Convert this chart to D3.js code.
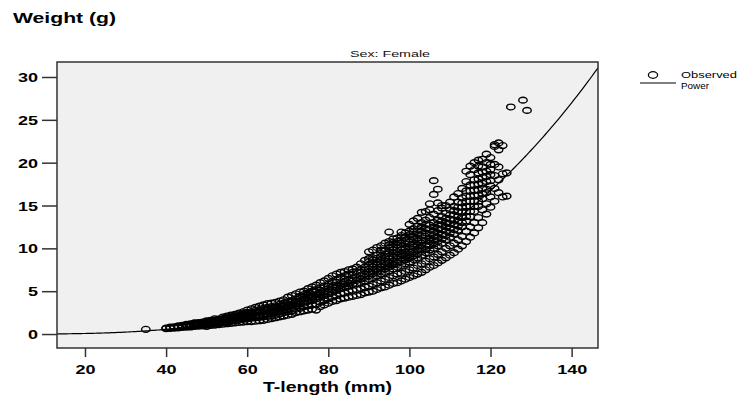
<!DOCTYPE html>
<html>
<head>
<meta charset="utf-8">
<script src="https://cdn.jsdelivr.net/npm/d3@7"></script>
<style>
  body { margin: 0; background: #fff; }
  svg { display: block; font-family: 'Liberation Sans', Arial, sans-serif; }
  .axis text { font-size: 12px; font-weight: bold; fill: #000; }
  .axis line { stroke: #333; stroke-width: 1.5; }
  .axis path { display: none; }
</style>
</head>
<body>
<div id="app"></div>
<script>
// T-length (mm) vs weight (g)
const observed = [
  [35, 0.55],
  [40, 0.62], [40, 0.70],
  [41, 0.66], [41, 0.74], [41, 0.80],
  [42, 0.70], [42, 0.78], [42, 0.85],
  [43, 0.72], [43, 0.80], [43, 0.88], [43, 0.95],
  [44, 0.78], [44, 0.86], [44, 0.95], [44, 1.02],
  [45, 0.80], [45, 0.88], [45, 0.96], [45, 1.05],
  [46, 0.82], [46, 0.92], [46, 1.00], [46, 1.10], [46, 1.18],
  [47, 0.88], [47, 0.98], [47, 1.06], [47, 1.15], [47, 1.25],
  [48, 0.92], [48, 1.02], [48, 1.12], [48, 1.22], [48, 1.32],
  [49, 0.96], [49, 1.06], [49, 1.16], [49, 1.28], [49, 1.40],
  [50, 0.90], [50, 1.10], [50, 1.22], [50, 1.35], [50, 1.55],
  [51, 1.00], [51, 1.18], [51, 1.30], [51, 1.42], [51, 1.60],
  [52, 1.05], [52, 1.22], [52, 1.36], [52, 1.50], [52, 1.62], [52, 1.78],
  [53, 1.10], [53, 1.28], [53, 1.42], [53, 1.58], [53, 1.75],
  [54, 1.15], [54, 1.35], [54, 1.50], [54, 1.65], [54, 1.80], [54, 1.98],
  [55, 1.20], [55, 1.40], [55, 1.56], [55, 1.72], [55, 1.90], [55, 2.10],
  [56, 1.25], [56, 1.48], [56, 1.65], [56, 1.82], [56, 2.00], [56, 2.20],
  [57, 1.30], [57, 1.55], [57, 1.72], [57, 1.90], [57, 2.10], [57, 2.30],
  [58, 1.35], [58, 1.62], [58, 1.82], [58, 2.00], [58, 2.25], [58, 2.45],
  [59, 1.40], [59, 1.70], [59, 1.90], [59, 2.10], [59, 2.35], [59, 2.60],
  [60, 1.45], [60, 1.78], [60, 2.00], [60, 2.22], [60, 2.50], [60, 2.80],
  [61, 1.45], [61, 1.85], [61, 2.08], [61, 2.30], [61, 2.60], [61, 2.95],
  [62, 1.50], [62, 1.90], [62, 2.18], [62, 2.42], [62, 2.75], [62, 3.10],
  [63, 1.55], [63, 1.95], [63, 2.25], [63, 2.55], [63, 2.85], [63, 3.25],
  [64, 1.60], [64, 2.00], [64, 2.35], [64, 2.65], [64, 3.00], [64, 3.40],
  [65, 1.70], [65, 2.05], [65, 2.40], [65, 2.75], [65, 3.10], [65, 3.55],
  [66, 1.80], [66, 2.10], [66, 2.45], [66, 2.80], [66, 3.20], [66, 3.60],
  [67, 1.90], [67, 2.20], [67, 2.55], [67, 2.90], [67, 3.30], [67, 3.70],
  [68, 2.00], [68, 2.35], [68, 2.70], [68, 3.05], [68, 3.45], [68, 3.85],
  [69, 2.10], [69, 2.50], [69, 2.85], [69, 3.20], [69, 3.60], [69, 4.00],
  [70, 2.20], [70, 2.60], [70, 3.00], [70, 3.40], [70, 3.80], [70, 4.30],
  [71, 2.30], [71, 2.70], [71, 3.10], [71, 3.50], [71, 3.90], [71, 4.50],
  [72, 2.50], [72, 2.90], [72, 3.30], [72, 3.70], [72, 4.10], [72, 4.70],
  [73, 2.60], [73, 3.00], [73, 3.50], [73, 3.90], [73, 4.40], [73, 4.90],
  [74, 2.70], [74, 3.20], [74, 3.60], [74, 4.10], [74, 4.60], [74, 5.00],
  [75, 2.80], [75, 3.30], [75, 3.80], [75, 4.30], [75, 4.80], [75, 5.30],
  [76, 2.90], [76, 3.40], [76, 3.90], [76, 4.40], [76, 5.00], [76, 5.50],
  [77, 2.80], [77, 3.50], [77, 4.10], [77, 4.60], [77, 5.20], [77, 5.70],
  [78, 3.20], [78, 3.70], [78, 4.30], [78, 4.80], [78, 5.40], [78, 6.00],
  [79, 3.40], [79, 3.90], [79, 4.50], [79, 5.00], [79, 5.60], [79, 6.20],
  [80, 3.60], [80, 4.10], [80, 4.70], [80, 5.30], [80, 5.80], [80, 6.50],
  [81, 3.80], [81, 4.30], [81, 4.90], [81, 5.50], [81, 6.10], [81, 6.80],
  [82, 3.90], [82, 4.50], [82, 5.10], [82, 5.70], [82, 6.30], [82, 7.00],
  [83, 4.10], [83, 4.70], [83, 5.30], [83, 5.90], [83, 6.60], [83, 7.20],
  [84, 4.20], [84, 4.80], [84, 5.50], [84, 6.10], [84, 6.80], [84, 7.30],
  [85, 4.30], [85, 5.00], [85, 5.60], [85, 6.30], [85, 7.00], [85, 7.50],
  [86, 4.40], [86, 5.10], [86, 5.80], [86, 6.50], [86, 7.20], [86, 7.60],
  [87, 4.50], [87, 5.20], [87, 5.90], [87, 6.60], [87, 7.30], [87, 7.80],
  [88, 4.60], [88, 5.30], [88, 6.00], [88, 6.80], [88, 7.50], [88, 8.20],
  [89, 4.80], [89, 5.50], [89, 6.20], [89, 7.00], [89, 7.80], [89, 8.60],
  [90, 4.90], [90, 5.60], [90, 6.40], [90, 7.20], [90, 8.00], [90, 8.80], [90, 9.60],
  [91, 5.00], [91, 5.80], [91, 6.60], [91, 7.40], [91, 8.20], [91, 8.90], [91, 9.80],
  [92, 5.20], [92, 6.00], [92, 6.80], [92, 7.60], [92, 8.40], [92, 9.20], [92, 10.1],
  [93, 5.40], [93, 6.20], [93, 7.00], [93, 7.80], [93, 8.60], [93, 9.40], [93, 10.3],
  [94, 5.50], [94, 6.40], [94, 7.20], [94, 8.00], [94, 8.90], [94, 9.70], [94, 10.6],
  [95, 5.70], [95, 6.60], [95, 7.40], [95, 8.30], [95, 9.10], [95, 10.0], [95, 10.8], [95, 11.9],
  [96, 5.90], [96, 6.80], [96, 7.60], [96, 8.50], [96, 9.40], [96, 10.2], [96, 11.1],
  [97, 6.00], [97, 7.00], [97, 7.80], [97, 8.70], [97, 9.60], [97, 10.4], [97, 11.2],
  [98, 6.20], [98, 7.10], [98, 8.00], [98, 8.90], [98, 9.80], [98, 10.6], [98, 11.5], [98, 11.9],
  [99, 6.40], [99, 7.30], [99, 8.20], [99, 9.10], [99, 10.0], [99, 10.9], [99, 11.8],
  [100, 6.60], [100, 7.50], [100, 8.40], [100, 9.30], [100, 10.2], [100, 11.1], [100, 12.0], [100, 12.8],
  [101, 6.80], [101, 7.70], [101, 8.70], [101, 9.60], [101, 10.5], [101, 11.4], [101, 12.3], [101, 13.2],
  [102, 7.00], [102, 8.00], [102, 8.90], [102, 9.80], [102, 10.8], [102, 11.7], [102, 12.6], [102, 13.5],
  [103, 7.20], [103, 8.20], [103, 9.20], [103, 10.1], [103, 11.0], [103, 12.0], [103, 13.0], [103, 14.2],
  [104, 7.50], [104, 8.50], [104, 9.50], [104, 10.4], [104, 11.4], [104, 12.3], [104, 13.3], [104, 14.3],
  [105, 7.80], [105, 8.80], [105, 9.80], [105, 10.8], [105, 11.7], [105, 12.7], [105, 13.6], [105, 14.5], [105, 15.2],
  [106, 8.00], [106, 9.00], [106, 10.0], [106, 11.0], [106, 12.0], [106, 13.0], [106, 14.0], [106, 16.3], [106, 17.9],
  [107, 8.30], [107, 9.30], [107, 10.3], [107, 11.3], [107, 12.3], [107, 13.3], [107, 14.4], [107, 15.3], [107, 16.9],
  [108, 8.60], [108, 9.60], [108, 10.6], [108, 11.6], [108, 12.7], [108, 13.7], [108, 14.7], [108, 15.0],
  [109, 8.90], [109, 10.0], [109, 11.0], [109, 12.0], [109, 13.0], [109, 14.1], [109, 15.0],
  [110, 9.20], [110, 10.3], [110, 11.3], [110, 12.4], [110, 13.4], [110, 14.5], [110, 15.4],
  [111, 9.50], [111, 10.6], [111, 11.7], [111, 12.8], [111, 13.9], [111, 14.9], [111, 16.0],
  [112, 9.90], [112, 11.0], [112, 12.1], [112, 13.2], [112, 14.3], [112, 15.4], [112, 16.4],
  [113, 10.3], [113, 11.4], [113, 12.5], [113, 13.6], [113, 14.8], [113, 15.9], [113, 17.0],
  [114, 10.8], [114, 12.0], [114, 13.2], [114, 14.3], [114, 15.5], [114, 16.7], [114, 17.8], [114, 19.0],
  [115, 11.3], [115, 12.5], [115, 13.7], [115, 14.9], [115, 16.1], [115, 17.4], [115, 18.6], [115, 19.6],
  [116, 11.8], [116, 13.0], [116, 14.3], [116, 15.5], [116, 16.8], [116, 18.0], [116, 19.2], [116, 20.0],
  [117, 12.4], [117, 13.6], [117, 14.9], [117, 16.2], [117, 17.5], [117, 18.8], [117, 19.6], [117, 20.3],
  [118, 13.0], [118, 14.5], [118, 15.8], [118, 17.0], [118, 18.3], [118, 19.5], [118, 20.4],
  [119, 14.0], [119, 15.2], [119, 16.5], [119, 17.8], [119, 19.0], [119, 20.0], [119, 21.0],
  [120, 14.8], [120, 16.0], [120, 17.3], [120, 18.6], [120, 19.8], [120, 20.6],
  [121, 15.5], [121, 17.0], [121, 18.5], [121, 19.8], [121, 21.9], [121, 22.1],
  [122, 16.5], [122, 18.0], [122, 19.5], [122, 21.5], [122, 22.3],
  [123, 16.0], [123, 18.7], [123, 22.0],
  [124, 16.1], [124, 18.8],
  [125, 26.5],
  [128, 27.3],
  [129, 26.1],
  // denser core
  [44, 0.91], [45, 1.12], [46, 0.97], [47, 1.31], [48, 1.08], [49, 1.21], [50, 1.03], [50, 1.44],
  [51, 1.24], [51, 1.51], [52, 1.29], [53, 1.36], [53, 1.67], [54, 1.42], [55, 1.33], [55, 1.81],
  [56, 1.57], [57, 1.63], [57, 2.02], [58, 1.73], [59, 1.83], [59, 2.21], [60, 1.91], [60, 2.37],
  [61, 1.97], [61, 2.44], [62, 2.05], [62, 2.57], [63, 2.12], [63, 2.71], [64, 2.19], [64, 2.83],
  [65, 2.31], [65, 2.91], [66, 2.62], [67, 2.71], [67, 3.12], [68, 2.88], [69, 3.03], [69, 3.41],
  [70, 3.21], [71, 3.32], [71, 3.71], [72, 3.49], [73, 3.71], [73, 4.15], [74, 3.86], [75, 4.05],
  [75, 4.57], [76, 4.22], [77, 4.37], [77, 4.91], [78, 4.55], [78, 5.12], [79, 4.72], [80, 4.93],
  [80, 5.55], [81, 5.18], [82, 5.42], [82, 6.02], [83, 5.61], [84, 5.83], [84, 6.43], [85, 5.95],
  [86, 6.18], [86, 6.86], [87, 6.27], [88, 6.41], [88, 7.16], [89, 6.62], [89, 7.41], [90, 6.83],
  [90, 7.61], [90, 8.43], [91, 7.05], [91, 7.83], [91, 8.62], [92, 7.21], [92, 8.03], [92, 8.81],
  [93, 7.42], [93, 8.21], [93, 9.03], [93, 9.81], [94, 7.61], [94, 8.47], [94, 9.31], [95, 7.83],
  [95, 8.72], [95, 9.55], [95, 10.4], [96, 8.07], [96, 8.95], [96, 9.82], [96, 10.7], [97, 8.26],
  [97, 9.13], [97, 10.0], [97, 10.8], [98, 8.47], [98, 9.35], [98, 10.2], [98, 11.0], [99, 8.66],
  [99, 9.54], [99, 10.5], [99, 11.3], [100, 8.86], [100, 9.74], [100, 10.7], [100, 11.6],
  [101, 9.13], [101, 10.1], [101, 11.0], [101, 11.9], [102, 9.35], [102, 10.3], [102, 11.2],
  [102, 12.2], [103, 9.64], [103, 10.6], [103, 11.5], [103, 12.5], [104, 9.92], [104, 10.9],
  [104, 11.8], [104, 12.8], [105, 10.3], [105, 11.2], [105, 12.2], [106, 10.5], [106, 11.5],
  [106, 12.5], [107, 10.8], [107, 11.8], [107, 12.8], [108, 11.1], [108, 12.2], [108, 13.2],
  [109, 11.5], [109, 12.5], [109, 13.5], [110, 11.8], [110, 12.9], [110, 13.9], [111, 12.2],
  [111, 13.3], [111, 14.4], [112, 12.6], [112, 13.7], [112, 14.8], [113, 13.0], [113, 14.2],
  [113, 15.3], [114, 13.7], [114, 14.9], [114, 16.1], [115, 14.3], [115, 15.5], [115, 16.7],
  [116, 14.9], [116, 16.2], [116, 17.4], [117, 15.5], [117, 16.8], [117, 18.1], [118, 16.4],
  [118, 17.6], [118, 18.9], [119, 16.9], [119, 18.4], [120, 17.9], [120, 19.2]
]

const xTicks = [20, 40, 60, 80, 100, 120, 140]
const yTicks = [0, 5, 10, 15, 20, 25, 30]

// fitted power model W = a * L^b
const powerA = 6.0e-6
const powerB = 3.1

const W = 742, H = 398
const plot = { left: 57, right: 598, top: 62, bottom: 348 }

const svg = d3.select('#app').append('svg')
  .attr('width', W)
  .attr('height', H)

const x = d3.scaleLinear().domain([13.1, 146.5]).range([plot.left, plot.right])
const y = d3.scaleLinear().domain([-1.63, 31.75]).range([plot.bottom, plot.top])

// the original typeface is much wider than Arial, so stretch text horizontally
function stretch(sel, k) {
  sel.each(function() {
    const w = this.getComputedTextLength()
    d3.select(this).attr('textLength', w * k).attr('lengthAdjust', 'spacingAndGlyphs')
  })
}

// Frame
svg.append('rect')
  .attr('x', plot.left)
  .attr('y', plot.top)
  .attr('width', plot.right - plot.left)
  .attr('height', plot.bottom - plot.top)
  .attr('fill', '#f0f0f0')

svg.append('clipPath').attr('id', 'clip')
  .append('rect')
  .attr('x', plot.left)
  .attr('y', plot.top)
  .attr('width', plot.right - plot.left)
  .attr('height', plot.bottom - plot.top)

const inner = svg.append('g').attr('clip-path', 'url(#clip)')

// Points
inner.selectAll('ellipse')
  .data(observed)
  .join('ellipse')
  .attr('cx', d => x(d[0]))
  .attr('cy', d => y(d[1]))
  .attr('rx', 4.2)
  .attr('ry', 2.9)
  .attr('fill', 'none')
  .attr('stroke', '#000')
  .attr('stroke-width', 1.4)

// Power curve
const curvePts = d3.range(13, 147.01, 0.5).map(L => [L, powerA * Math.pow(L, powerB)])
inner.append('path')
  .datum(curvePts)
  .attr('fill', 'none')
  .attr('stroke', '#000')
  .attr('stroke-width', 1.2)
  .attr('d', d3.line().x(d => x(d[0])).y(d => y(d[1])))

svg.append('rect')
  .attr('x', plot.left)
  .attr('y', plot.top)
  .attr('width', plot.right - plot.left)
  .attr('height', plot.bottom - plot.top)
  .attr('fill', 'none')
  .attr('stroke', '#333')
  .attr('stroke-width', 1.5)

// Axes
svg.append('g')
  .attr('class', 'axis')
  .attr('transform', `translate(${plot.left},0)`)
  .call(d3.axisLeft(y).tickValues(yTicks).tickSize(15).tickPadding(4))
  .selectAll('text').attr('dy', '0.38em')
  .call(stretch, 1.5)

svg.append('g')
  .attr('class', 'axis')
  .attr('transform', `translate(0,${plot.bottom})`)
  .call(d3.axisBottom(x).tickValues(xTicks).tickSize(9).tickPadding(8))
  .selectAll('text')
  .call(stretch, 1.5)

// Titles
svg.append('text')
  .attr('x', 13)
  .attr('y', 22.5)
  .attr('font-size', 14)
  .attr('font-weight', 'bold')
  .attr('textLength', 103)
  .attr('lengthAdjust', 'spacingAndGlyphs')
  .text('Weight (g)')

svg.append('text')
  .attr('x', (plot.left + plot.right) / 2)
  .attr('y', 392)
  .attr('text-anchor', 'middle')
  .attr('font-size', 14)
  .attr('font-weight', 'bold')
  .attr('textLength', 129)
  .attr('lengthAdjust', 'spacingAndGlyphs')
  .text('T-length (mm)')

svg.append('text')
  .attr('x', 390)
  .attr('y', 56.5)
  .attr('text-anchor', 'middle')
  .attr('font-size', 9.5)
  .attr('fill', '#111')
  .attr('textLength', 80)
  .attr('lengthAdjust', 'spacingAndGlyphs')
  .text('Sex: Female')

// Legend
const legend = svg.append('g')
legend.append('ellipse')
  .attr('cx', 653).attr('cy', 75)
  .attr('rx', 4.6).attr('ry', 3.3)
  .attr('fill', 'none').attr('stroke', '#000').attr('stroke-width', 1.3)
legend.append('text')
  .attr('x', 681).attr('y', 77.8)
  .attr('font-size', 9)
  .attr('textLength', 56)
  .attr('lengthAdjust', 'spacingAndGlyphs')
  .text('Observed')
legend.append('line')
  .attr('x1', 640).attr('x2', 676)
  .attr('y1', 83).attr('y2', 83)
  .attr('stroke', '#000').attr('stroke-width', 1.2)
legend.append('text')
  .attr('x', 681).attr('y', 88.5)
  .attr('font-size', 9)
  .attr('textLength', 28)
  .attr('lengthAdjust', 'spacingAndGlyphs')
  .text('Power')
</script>
</body>
</html>
